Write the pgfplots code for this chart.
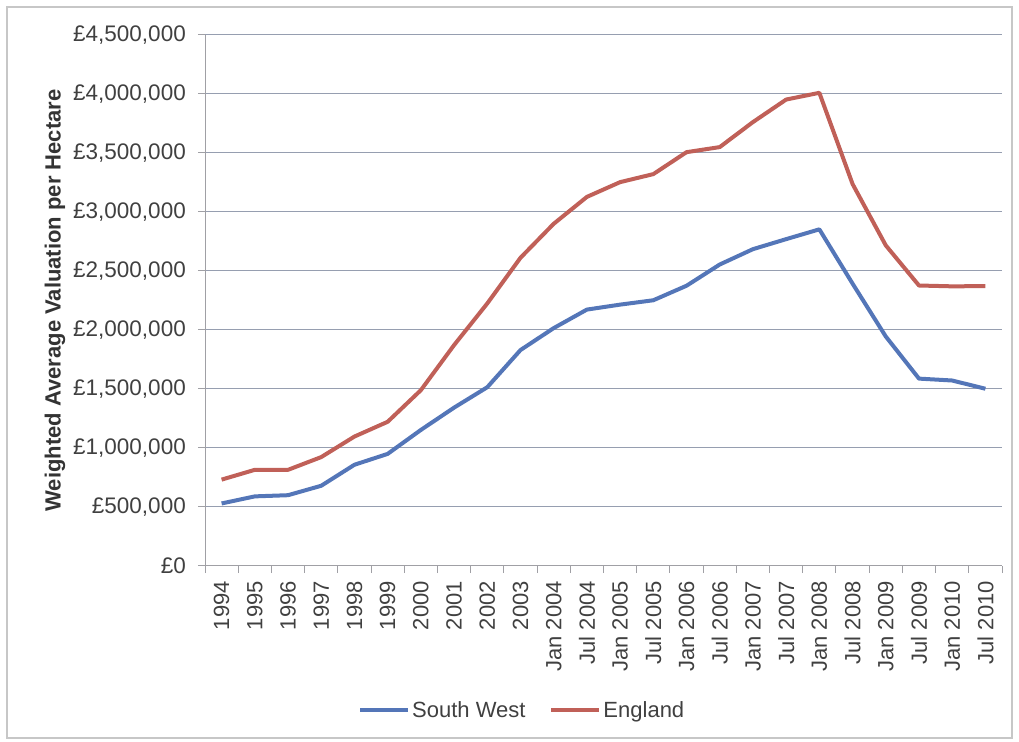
\documentclass[border=0pt]{standalone}
\usepackage{pgfplots}
\pgfplotsset{compat=1.18}
\usepackage{fontspec}
\setmainfont{Liberation Sans}

\definecolor{swblue}{RGB}{84,118,184}
\definecolor{engred}{RGB}{192,96,88}
\definecolor{gridc}{RGB}{150,158,176}
\definecolor{axisc}{RGB}{160,160,165}
\definecolor{txt}{RGB}{64,64,64}

\begin{document}
\begin{tikzpicture}
\useasboundingbox (0pt,0pt) rectangle (1019pt,741pt);
\draw[black!22, line width=1.2pt] (7pt,3pt) rectangle (1012pt,734pt);
\begin{axis}[
  at={(205pt,175pt)}, anchor=south west,
  width=797pt, height=531pt, scale only axis,
  xmin=-0.5, xmax=23.5, ymin=0, ymax=4500000,
  scaled y ticks=false,
  axis lines=left, axis line style={-, draw=axisc, line width=1pt},
  xtick={0,...,23},
  xticklabels={1994,1995,1996,1997,1998,1999,2000,2001,2002,2003,
    Jan 2004,Jul 2004,Jan 2005,Jul 2005,Jan 2006,Jul 2006,Jan 2007,
    Jul 2007,Jan 2008,Jul 2008,Jan 2009,Jul 2009,Jan 2010,Jul 2010},
  major x tick style={draw=none},
  minor xtick={-0.5,0.5,...,23.5},
  minor x tick style={draw=axisc, line width=1pt},
  minor tick length=7pt,
  tick align=outside,
  ytick={0,500000,...,4500000},
  yticklabels={{£0},{£500,000},{£1,000,000},{£1,500,000},{£2,000,000},
    {£2,500,000},{£3,000,000},{£3,500,000},{£4,000,000},{£4,500,000}},
  major y tick style={draw=axisc, line width=1pt},
  major tick length=7pt,
  ymajorgrids, grid style={draw=gridc, line width=1pt},
  xticklabel style={rotate=90, anchor=east, font=\fontsize{22}{25}\selectfont,
    text=txt, inner sep=2pt, xshift=-6pt},
  yticklabel style={font=\fontsize{22.5}{25}\selectfont, text=txt, inner sep=2pt, xshift=-10pt},
  ylabel={Weighted Average Valuation per Hectare},
  ylabel style={at={(axis description cs:0,0.5)}, anchor=center, yshift=150pt,
    font=\bfseries\fontsize{22}{25}\selectfont, text=txt!80!black},
  legend columns=2,
  legend style={at={(axis description cs:0.398,-0.271)}, anchor=center,
    draw=none, fill=none, font=\fontsize{22}{25}\selectfont, text=txt,
    /tikz/every even column/.append style={column sep=22pt}},
  legend image code/.code={\draw[#1, line width=4pt] (0pt,0pt) -- (48pt,0pt);},
  every axis plot/.append style={line width=4pt, line join=round},
]
\addplot[swblue] coordinates {
 (0,530000) (1,590000) (2,600000) (3,680000) (4,858000) (5,950000)
 (6,1153000) (7,1342000) (8,1515000) (9,1830000) (10,2016000) (11,2173000)
 (12,2215000) (13,2252000) (14,2375000) (15,2555000) (16,2685000) (17,2770000)
 (18,2853000) (19,2393000) (20,1945000) (21,1588000) (22,1572000) (23,1502000)
};
\addlegendentry{South West}
\addplot[engred] coordinates {
 (0,732000) (1,815000) (2,815000) (3,923000) (4,1097000) (5,1222000)
 (6,1490000) (7,1872000) (8,2225000) (9,2612000) (10,2900000) (11,3128000)
 (12,3253000) (13,3321000) (14,3507000) (15,3550000) (16,3762000) (17,3953000)
 (18,4010000) (19,3237000) (20,2717000) (21,2377000) (22,2370000) (23,2372000)
};
\addlegendentry{England}
\end{axis}
\end{tikzpicture}
\end{document}
